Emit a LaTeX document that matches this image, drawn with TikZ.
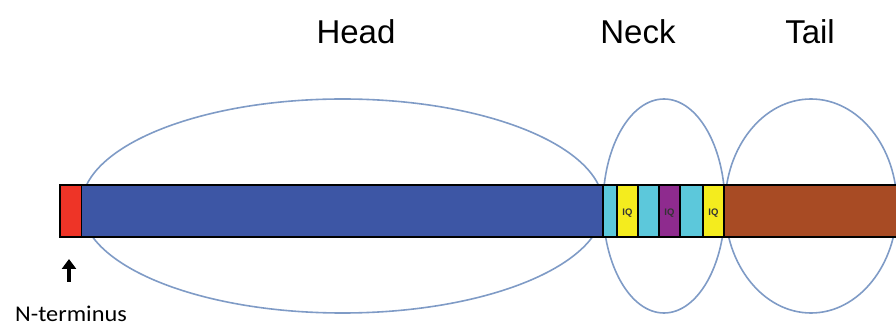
\documentclass[tikz,border=0pt]{standalone}
\usepackage{fontspec}
\usetikzlibrary{arrows.meta}
\setmainfont{Liberation Sans}
\newfontfamily\calib{Carlito}
\definecolor{nred}{HTML}{EE3427}
\definecolor{hblue}{HTML}{3D56A5}
\definecolor{lcyan}{HTML}{5CC8DB}
\definecolor{iqyel}{HTML}{F4EC1E}
\definecolor{iqpur}{HTML}{8E2B8E}
\definecolor{tbrown}{HTML}{A84B24}
\definecolor{ellc}{HTML}{7F9BC6}
\begin{document}
\begin{tikzpicture}[x=1pt,y=-1pt,
  seg/.style={draw=black,line width=1.2pt},
  domline/.style={draw=ellc,line width=1.6pt},
  titletext/.style={anchor=base,font=\fontsize{33}{36}\selectfont,inner sep=0pt},
  iqtext/.style={font=\fontsize{9.5}{10}\selectfont\bfseries,text=black!80,inner sep=0pt}]
\useasboundingbox (0,0) rectangle (896,328);
% domain ellipses (behind the bar)
\draw[domline] (342.5,206) ellipse [x radius=261, y radius=107];
\draw[domline] (664,206) ellipse [x radius=61, y radius=107];
\draw[domline] (811,206) ellipse [x radius=86, y radius=107];
% bar segments
\path[seg,fill=nred] (60,185) rectangle (81.5,237);
\path[seg,fill=hblue] (81.5,185) rectangle (603,237);
\path[seg,fill=lcyan] (603,185) rectangle (617,237);
\path[seg,fill=iqyel] (617,185) rectangle (638,237);
\path[seg,fill=lcyan] (638,185) rectangle (659,237);
\path[seg,fill=iqpur] (659,185) rectangle (680,237);
\path[seg,fill=lcyan] (680,185) rectangle (703,237);
\path[seg,fill=iqyel] (703,185) rectangle (724,237);
\path[seg,fill=tbrown] (724,185) rectangle (900,237);
% IQ labels
\node[iqtext] (iq1) at (627.5,213) {IQ};
\node[iqtext] (iq2) at (669.5,213) {IQ};
\node[iqtext] (iq3) at (713.5,213) {IQ};
% titles
\node[titletext] (head) at (356,44) {Head};
\node[titletext] (neck) at (638,44) {Neck};
\node[titletext] (tail) at (810,44) {Tail};
% N-terminus
\node[anchor=base,inner sep=0pt,text depth=0pt,xscale=1.08,font=\calib\fontsize{22.5}{24}\selectfont] (nterm) at (71,322) {N-terminus};
\coordinate (arrtop) at (69,259);
\coordinate (arrbot) at (69,282);
\draw[line width=3.6pt,-{Triangle[width=14pt,length=10pt]}] (arrbot) -- (arrtop);
\end{tikzpicture}
\end{document}
